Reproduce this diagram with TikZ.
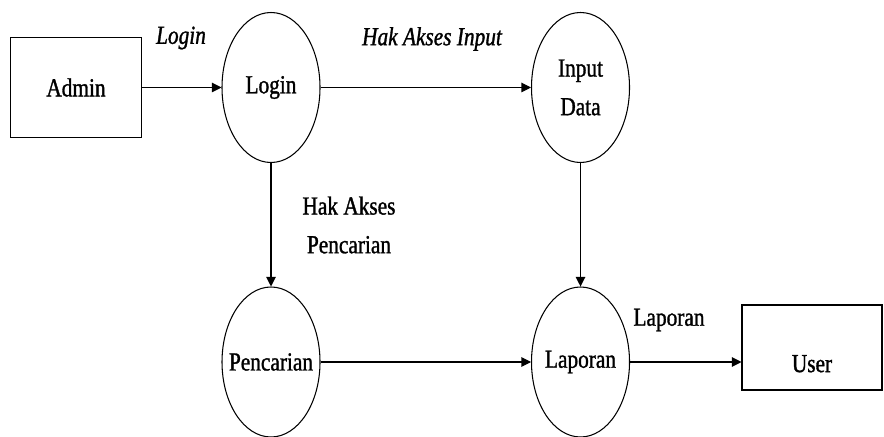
\documentclass[tikz,border=0pt]{standalone}
\usepackage{fontspec}
\setmainfont{Liberation Serif}[FakeStretch=0.82, FakeBold=1.2]
\usetikzlibrary{arrows.meta,positioning,shapes.geometric}

\begin{document}
\begin{tikzpicture}[
  every node/.style={font=\fontsize{14.8}{22}\selectfont},
  entity/.style={rectangle, draw=black, line width=0.6pt, minimum width=2.62cm, minimum height=2cm},
  process/.style={ellipse, draw=black, line width=0.6pt, inner xsep=-0.5cm, inner ysep=0pt, minimum width=1.96cm, minimum height=3cm, align=center},
  flow/.style={-{Triangle[length=1.9mm, width=1.9mm]}, line width=0.6pt},
  flowlabel/.style={align=center, font=\fontsize{14.8}{22}\selectfont\itshape}
]
\useasboundingbox (0,0) rectangle (17.68,8.72);

% External entities
\node[entity] (admin) at (1.52,6.97) {Admin};
\node[entity, minimum width=2.8cm, minimum height=1.7cm, text height=28pt, text depth=0pt] (user) at (16.24,1.77) {User};

% Processes
\node[process] (login) at (5.42,6.97) {Login};
\node[process] (input) at (11.61,6.97) {Input\\Data};
\node[process] (cari) at (5.42,1.48) {Pencarian};
\node[process] (laporan) at (11.61,1.48) {Laporan};

% Data flows
\draw[flow] (admin) -- (login);
\draw[flow] (login) -- (input);
\draw[flow] (login) -- (cari);
\draw[flow] (input) -- (laporan);
\draw[flow] (cari) -- (laporan);
\draw[flow] (laporan.east) -- (laporan.east -| user.west);

% Flow labels
\node[flowlabel] (lblogin) at (3.62,7.96) {Login};
\node[flowlabel] (lbinput) at (8.64,7.94) {Hak Akses Input};
\node[flowlabel, font=\fontsize{14.8}{22}\selectfont] (lbcari) at (6.98,4.22) {Hak Akses\\Pencarian};
\node[flowlabel, font=\fontsize{14.8}{22}\selectfont] (lblaporan) at (13.38,2.32) {Laporan};

\end{tikzpicture}
\end{document}
